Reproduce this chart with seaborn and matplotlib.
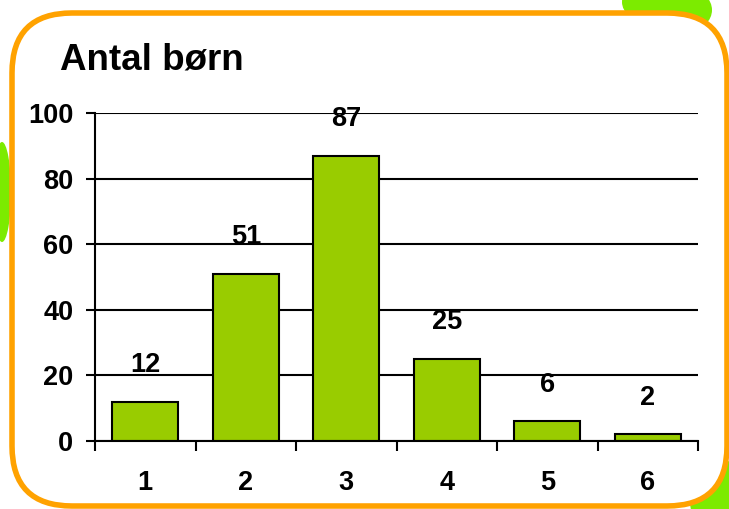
import numpy as np
import pandas as pd
import matplotlib
matplotlib.use("Agg")
import matplotlib.pyplot as plt
from matplotlib.patches import FancyBboxPatch, Ellipse
from matplotlib.transforms import IdentityTransform
import seaborn as sns

# data
categories = ["1", "2", "3", "4", "5", "6"]
counts = [12, 51, 87, 25, 6, 2]
y_ticks = [0, 20, 40, 60, 80, 100]
title = "Antal børn"

BAR_COLOR = "#99CC00"
ORANGE = "#FFA200"
BLOB = "#7CEB00"

sns.set_style("white")
plt.rcParams["font.family"] = ["Liberation Sans", "DejaVu Sans"]
plt.rcParams["font.weight"] = "bold"
plt.rcParams["text.color"] = "black"
plt.rcParams["xtick.color"] = "black"
plt.rcParams["ytick.color"] = "black"
plt.rcParams["xtick.labelcolor"] = "black"
plt.rcParams["ytick.labelcolor"] = "black"

fig = plt.figure(figsize=(7.29, 5.09), dpi=100)
fig.patch.set_facecolor("white")
H = 509

# green blobs behind the frame (pixel coords, origin bottom-left)
ident = IdentityTransform()
for (cx, cy, w, h) in [(648, H - 2, 52, 40), (690, H - 10, 44, 40),
                       (2, H - 192, 18, 100), (725, 8, 70, 80)]:
    fig.patches.append(Ellipse((cx, cy), w, h, transform=ident,
                               facecolor=BLOB, edgecolor="none", zorder=0))

# rounded orange frame
frame = FancyBboxPatch((12, H - 506), 715, 493,
                       boxstyle="round,pad=0,rounding_size=60",
                       transform=ident, facecolor="white",
                       edgecolor=ORANGE, linewidth=4, zorder=1)
fig.patches.append(frame)

ax = fig.add_axes([95 / 729, 1 - 441 / H, (698 - 95) / 729, (441 - 113) / H])
ax.set_zorder(2)
ax.patch.set_visible(False)

df = pd.DataFrame({"kat": categories, "antal": counts})
sns.barplot(data=df, x="kat", y="antal", color=BAR_COLOR, width=0.66,
            edgecolor="black", linewidth=1.5, saturation=1, ax=ax, zorder=3)

for i, v in enumerate(counts):
    ax.annotate(str(v), (i, v), xytext=(0, 17), textcoords="offset points",
                ha="center", va="bottom", fontsize=19.5, fontweight="bold",
                color="black")

ax.set_xlim(-0.5, len(categories) - 0.5)
ax.set_ylim(0, 100)
ax.set_yticks(y_ticks)
ax.yaxis.grid(True, color="black", linewidth=1.5)
ax.set_axisbelow(True)
for s in ["top", "right"]:
    ax.spines[s].set_visible(False)
for s in ["left", "bottom"]:
    ax.spines[s].set_color("black")
    ax.spines[s].set_linewidth(1.5)
    ax.spines[s].set_zorder(4)

ax.set_xticks(np.arange(-0.5, len(categories)), minor=True)
ax.tick_params(axis="x", which="minor", length=7, width=1.5, color="black",
               direction="out", bottom=True)
ax.tick_params(axis="x", which="major", length=0, pad=21, labelsize=19.5)
ax.tick_params(axis="y", which="major", length=6.5, width=1.5, color="black",
               direction="out", left=True, pad=9, labelsize=19.5)
for lab in ax.get_xticklabels() + ax.get_yticklabels():
    lab.set_fontweight("bold")
ax.set_xlabel("")
ax.set_ylabel("")

fig.text(60 / 729, 1 - 60 / H, title, fontsize=26.5, fontweight="bold",
         ha="left", va="center", color="black")

fig.savefig("out.png", dpi=100)
